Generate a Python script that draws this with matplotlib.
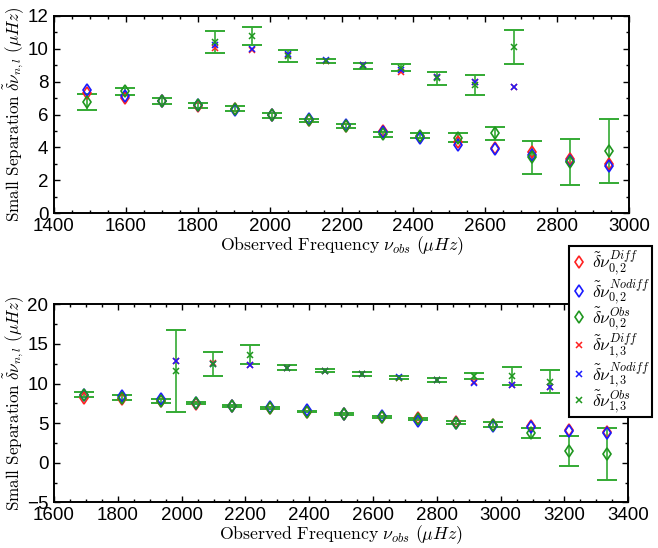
import matplotlib
matplotlib.use("Agg")
import matplotlib.pyplot as plt
from matplotlib.ticker import MultipleLocator
from matplotlib.lines import Line2D

plt.rcParams['mathtext.fontset'] = 'cm'
plt.rcParams['font.family'] = ['Liberation Sans', 'DejaVu Sans']

# ---------------- Top panel data ----------------
top_f02 = [1493, 1598, 1700, 1802, 1904, 2006, 2110, 2212, 2316, 2418, 2523, 2628, 2731, 2836, 2943]
top_d02_diff = [7.3, 7.0, 6.8, 6.5, 6.35, 5.95, 5.65, 5.3, 5.0, 4.65, 4.3, 3.95, 3.7, 3.3, 3.0]
top_d02_nodiff = [7.5, 7.15, 6.85, 6.55, 6.3, 6.0, 5.7, 5.35, 4.95, 4.6, 4.15, 3.9, 3.55, 3.15, 2.9]
top_d02_obs = [6.75, 7.4, 6.8, 6.55, 6.35, 5.95, 5.65, 5.3, 4.8, 4.7, 4.6, 4.85, 3.4, 3.1, 3.8]
top_d02_err = [0.5, 0.2, 0.18, 0.15, 0.15, 0.15, 0.1, 0.1, 0.15, 0.15, 0.25, 0.37, 1.0, 1.4, 1.93]

top_f13 = [1848, 1950, 2052, 2157, 2261, 2365, 2467, 2571, 2681]
top_d13_diff = [10.05, 9.9, 9.6, 9.25, 9.0, 8.6, 8.3, 7.95, 7.65]
top_d13_nodiff = [10.2, 9.95, 9.65, 9.3, 9.0, 8.7, 8.3, 8.0, 7.65]
top_d13_obs = [10.4, 10.75, 9.55, 9.25, 8.97, 8.85, 8.2, 7.8, 10.1]
top_d13_err = [0.65, 0.55, 0.35, 0.13, 0.18, 0.2, 0.4, 0.62, 1.03]

# ---------------- Bottom panel data ----------------
bot_f02 = [1695, 1814, 1934, 2045, 2159, 2277, 2394, 2509, 2627, 2742, 2860, 2977, 3096, 3215, 3334]
bot_d02_diff = [8.2, 8.0, 7.8, 7.4, 7.1, 6.9, 6.45, 6.1, 5.8, 5.6, 5.2, 4.8, 4.6, 4.1, 3.85]
bot_d02_nodiff = [8.6, 8.4, 8.0, 7.6, 7.2, 7.0, 6.7, 6.2, 5.85, 5.3, 5.0, 4.6, 4.5, 4.05, 3.8]
bot_d02_obs = [8.6, 8.2, 7.75, 7.5, 7.15, 6.9, 6.45, 6.1, 5.75, 5.5, 5.05, 4.8, 3.75, 1.5, 1.1]
bot_d02_err = [0.3, 0.3, 0.25, 0.12, 0.15, 0.12, 0.1, 0.12, 0.15, 0.15, 0.22, 0.3, 0.67, 1.9, 3.3]

bot_f13 = [1981, 2097, 2214, 2331, 2449, 2564, 2682, 2799, 2917, 3035, 3154]
bot_d13_diff = [12.9, 12.6, 12.3, 12.0, 11.6, 11.2, 10.75, 10.45, 10.15, 9.8, 9.5]
bot_d13_nodiff = [12.9, 12.5, 12.3, 12.0, 11.6, 11.2, 10.8, 10.45, 10.1, 9.75, 9.5]
bot_d13_obs = [11.6, 12.5, 13.6, 12.0, 11.6, 11.2, 10.75, 10.45, 10.95, 10.95, 10.25]
bot_d13_err = [5.15, 1.5, 1.2, 0.3, 0.2, 0.25, 0.15, 0.25, 0.42, 1.1, 1.45]

RED = '#ff2020'
BLUE = '#1a1aff'
GREEN = '#1e961e'
EGREEN = '#33aa33'

labels = [r'$\tilde{\delta}\nu_{0,2}^{Diff}$', r'$\tilde{\delta}\nu_{0,2}^{Nodiff}$',
          r'$\tilde{\delta}\nu_{0,2}^{Obs}$', r'$\tilde{\delta}\nu_{1,3}^{Diff}$',
          r'$\tilde{\delta}\nu_{1,3}^{Nodiff}$', r'$\tilde{\delta}\nu_{1,3}^{Obs}$']

fig = plt.figure(figsize=(6.58, 5.48), dpi=100)
W, H = 658.0, 548.0
ax1 = fig.add_axes([54 / W, 1 - 213.3 / H, 575 / W, 197.6 / H])
ax2 = fig.add_axes([54 / W, 1 - 502.3 / H, 574.3 / W, 198 / H])

DMS = 6.0
XMS = 4.5


def draw(ax, f02, d, n, o, e, f13, d3, n3, o3, e3):
    ax.errorbar(f02, o, yerr=e, fmt='none', ecolor=EGREEN, elinewidth=1.2,
                capsize=7, capthick=1.4, zorder=2)
    ax.errorbar(f13, o3, yerr=e3, fmt='none', ecolor=EGREEN, elinewidth=1.2,
                capsize=7, capthick=1.4, zorder=2)
    ax.plot(f02, d, 'd', mfc='none', mec=RED, ms=DMS, mew=1.2, ls='none', zorder=3)
    ax.plot(f02, n, 'd', mfc='none', mec=BLUE, ms=DMS, mew=1.2, ls='none', zorder=3)
    ax.plot(f02, o, 'd', mfc='none', mec=GREEN, ms=DMS, mew=1.2, ls='none', zorder=4)
    ax.plot(f13, d3, 'x', color=RED, ms=XMS, mew=1.1, ls='none', zorder=3)
    ax.plot(f13, n3, 'x', color=BLUE, ms=XMS, mew=1.1, ls='none', zorder=3)
    ax.plot(f13, o3, 'x', color=GREEN, ms=XMS, mew=1.1, ls='none', zorder=4)


draw(ax1, top_f02, top_d02_diff, top_d02_nodiff, top_d02_obs, top_d02_err,
     top_f13, top_d13_diff, top_d13_nodiff, top_d13_obs, top_d13_err)
draw(ax2, bot_f02, bot_d02_diff, bot_d02_nodiff, bot_d02_obs, bot_d02_err,
     bot_f13, bot_d13_diff, bot_d13_nodiff, bot_d13_obs, bot_d13_err)

ax1.set_xlim(1400, 3000)
ax1.set_ylim(0, 12)
ax1.xaxis.set_major_locator(MultipleLocator(200))
ax1.xaxis.set_minor_locator(MultipleLocator(50))
ax1.yaxis.set_major_locator(MultipleLocator(2))
ax1.yaxis.set_minor_locator(MultipleLocator(1))

ax2.set_xlim(1600, 3400)
ax2.set_ylim(-5, 20)
ax2.xaxis.set_major_locator(MultipleLocator(200))
ax2.xaxis.set_minor_locator(MultipleLocator(50))
ax2.yaxis.set_major_locator(MultipleLocator(5))
ax2.yaxis.set_minor_locator(MultipleLocator(2.5))

ylab = r'$\mathrm{Small\ Separation}\ \tilde{\delta}\nu_{n,l}\ (\mu Hz)$'
xlab = r'$\mathrm{Observed\ Frequency}\ \nu_{obs}\ (\mu Hz)$'
for ax in (ax1, ax2):
    ax.tick_params(which='both', direction='in', top=True, right=True,
                   labelsize=13.5, width=1.0)
    ax.tick_params(axis='x', pad=3.5)
    ax.tick_params(axis='y', pad=4)
    ax.tick_params(which='major', length=4)
    ax.tick_params(which='minor', length=2)
    for sp in ax.spines.values():
        sp.set_linewidth(1.4)
    ax.set_ylabel(ylab, fontsize=12.3, labelpad=1)
    ax.set_xlabel(xlab, fontsize=12.8, labelpad=-0.5)

handles = [
    Line2D([], [], marker='d', mfc='none', mec=RED, ms=DMS, mew=1.2, ls='none'),
    Line2D([], [], marker='d', mfc='none', mec=BLUE, ms=DMS, mew=1.2, ls='none'),
    Line2D([], [], marker='d', mfc='none', mec=GREEN, ms=DMS, mew=1.2, ls='none'),
    Line2D([], [], marker='x', color=RED, ms=XMS, mew=1.1, ls='none'),
    Line2D([], [], marker='x', color=BLUE, ms=XMS, mew=1.1, ls='none'),
    Line2D([], [], marker='x', color=GREEN, ms=XMS, mew=1.1, ls='none'),
]
leg = fig.legend(handles, labels, loc='upper left',
                 bbox_to_anchor=(569 / W, 1 - 246 / H), fontsize=12.5,
                 frameon=True, fancybox=False, framealpha=1, edgecolor='black',
                 borderpad=0.15, labelspacing=-0.05, handlelength=0.8,
                 handletextpad=0.35, borderaxespad=0)
leg.get_frame().set_linewidth(1.5)
leg.set_zorder(10)

fig.savefig('out.png', dpi=100)
